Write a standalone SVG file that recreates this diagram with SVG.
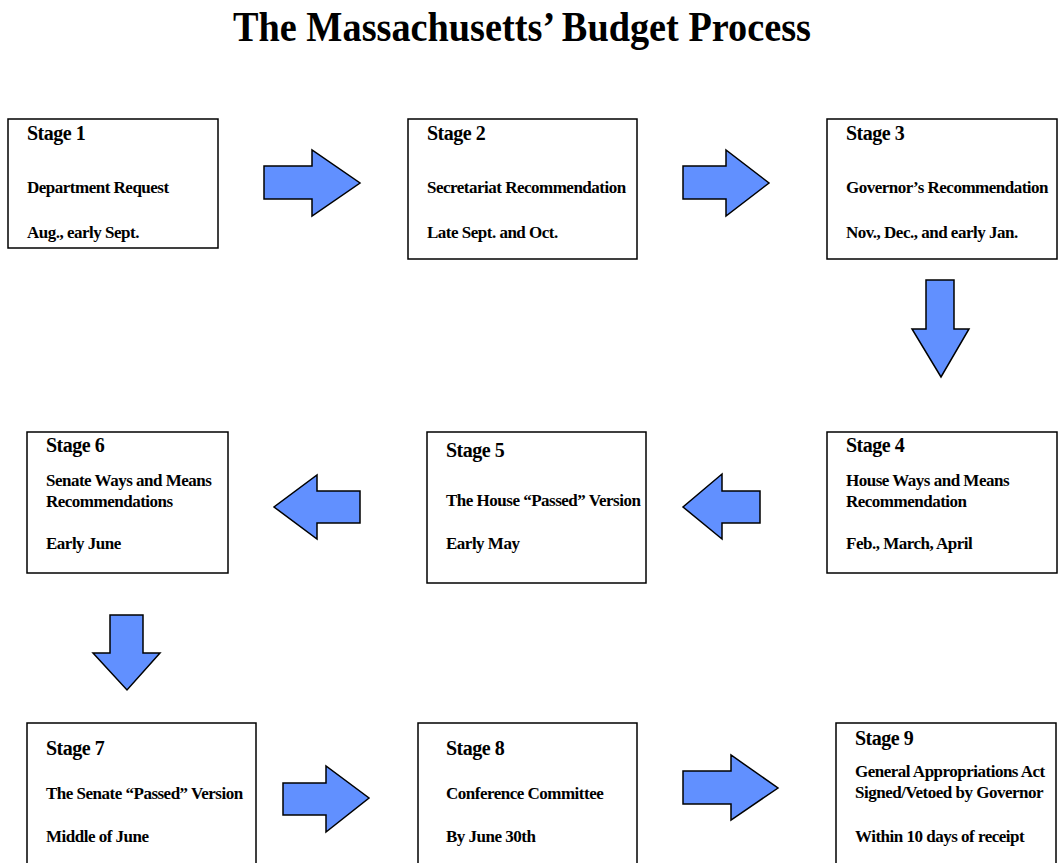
<svg xmlns="http://www.w3.org/2000/svg" width="1058" height="863" viewBox="0 0 1058 863">
<style>
.bg{fill:#ffffff}
.box{fill:#ffffff;stroke:#000000;stroke-width:1.5}
.arrow{fill:#6190ff;stroke:#000000;stroke-width:1.5;stroke-linejoin:miter}
text{font-family:"Liberation Serif","Times New Roman",serif;font-weight:bold;fill:#000000}
.title{font-size:43px}
.stage{font-size:20px;letter-spacing:-0.5px}
.body{font-size:17px;letter-spacing:-0.5px}
</style>
<rect class="bg" x="0" y="0" width="1058" height="863"/>
<text class="title" x="233" y="41" textLength="578" lengthAdjust="spacingAndGlyphs">The Massachusetts’ Budget Process</text>

<g id="connectors">
<polygon class="arrow" points="264,166 312,166 312,150 360,183 312,216 312,199 264,199"/>
<polygon class="arrow" points="683,166 726,166 726,150 769,183 726,216 726,199 683,199"/>
<polygon class="arrow" points="926,280 954,280 954,329 969,329 941,377 912,329 926,329"/>
<polygon class="arrow" points="760,491 722,491 722,474 683,507 722,539 722,523 760,523"/>
<polygon class="arrow" points="360,491 317,491 317,475 274,507 317,539 317,523 360,523"/>
<polygon class="arrow" points="110,615 143,615 143,653 160,653 127,690 93,653 110,653"/>
<polygon class="arrow" points="283,783 326,783 326,766 369,798 326,832 326,815 283,815"/>
<polygon class="arrow" points="683,771 731,771 731,755 778,788 731,820 731,804 683,804"/>
</g>

<g id="stage1">
<rect class="box" x="8" y="119" width="210" height="129"/>
<text class="stage" x="27" y="140">Stage 1</text>
<text class="body" x="27" y="193">Department Request</text>
<text class="body" x="27" y="238">Aug., early Sept.</text>
</g>
<g id="stage2">
<rect class="box" x="408" y="119" width="229" height="140"/>
<text class="stage" x="427" y="140">Stage 2</text>
<text class="body" x="427" y="193">Secretariat Recommendation</text>
<text class="body" x="427" y="238">Late Sept. and Oct.</text>
</g>
<g id="stage3">
<rect class="box" x="827" y="119" width="230" height="140"/>
<text class="stage" x="846" y="140">Stage 3</text>
<text class="body" x="846" y="193">Governor’s Recommendation</text>
<text class="body" x="846" y="238">Nov., Dec., and early Jan.</text>
</g>
<g id="stage4">
<rect class="box" x="827" y="432" width="230" height="141"/>
<text class="stage" x="846" y="452">Stage 4</text>
<text class="body" x="846" y="486">House Ways and Means</text>
<text class="body" x="846" y="507">Recommendation</text>
<text class="body" x="846" y="549">Feb., March, April</text>
</g>
<g id="stage5">
<rect class="box" x="427" y="432" width="219" height="151"/>
<text class="stage" x="446" y="457">Stage 5</text>
<text class="body" x="446" y="506">The House “Passed” Version</text>
<text class="body" x="446" y="549">Early May</text>
</g>
<g id="stage6">
<rect class="box" x="27" y="432" width="201" height="141"/>
<text class="stage" x="46" y="452">Stage 6</text>
<text class="body" x="46" y="486">Senate Ways and Means</text>
<text class="body" x="46" y="507">Recommendations</text>
<text class="body" x="46" y="549">Early June</text>
</g>
<g id="stage7">
<rect class="box" x="27" y="723" width="229" height="160"/>
<text class="stage" x="46" y="755">Stage 7</text>
<text class="body" x="46" y="799">The Senate “Passed” Version</text>
<text class="body" x="46" y="842">Middle of June</text>
</g>
<g id="stage8">
<rect class="box" x="418" y="723" width="219" height="160"/>
<text class="stage" x="446" y="755">Stage 8</text>
<text class="body" x="446" y="799">Conference Committee</text>
<text class="body" x="446" y="842">By June 30th</text>
</g>
<g id="stage9">
<rect class="box" x="836" y="723" width="220" height="160"/>
<text class="stage" x="855" y="745">Stage 9</text>
<text class="body" x="855" y="777">General Appropriations Act</text>
<text class="body" x="855" y="798">Signed/Vetoed by Governor</text>
<text class="body" x="855" y="842">Within 10 days of receipt</text>
</g>
</svg>
